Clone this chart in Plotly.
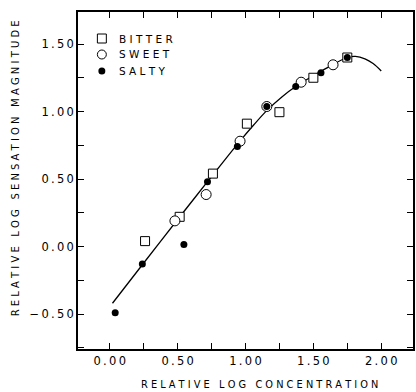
import plotly.graph_objects as go

# ---- data ----
bitter_x = [0.26, 0.515, 0.76, 1.01, 1.25, 1.50, 1.75]
bitter_y = [0.04, 0.22, 0.54, 0.91, 0.995, 1.25, 1.40]

sweet_x = [0.48, 0.71, 0.96, 1.157, 1.41, 1.645]
sweet_y = [0.19, 0.385, 0.78, 1.037, 1.217, 1.346]

salty_x = [0.04, 0.24, 0.546, 0.72, 0.94, 1.157, 1.37, 1.556, 1.75]
salty_y = [-0.49, -0.13, 0.015, 0.48, 0.74, 1.037, 1.185, 1.287, 1.40]

curve_x = [0.02, 0.24, 0.50, 0.72, 0.95, 1.06, 1.16, 1.27, 1.37, 1.56, 1.75, 1.81, 1.88, 1.94, 2.00]
curve_y = [-0.42, -0.135, 0.20, 0.48, 0.77, 0.90, 1.01, 1.11, 1.185, 1.30, 1.40, 1.408, 1.39, 1.355, 1.30]

x_major = [0.0, 0.5, 1.0, 1.5, 2.0]
x_labels = ["0.00", "0.50", "1.00", "1.50", "2.00"]
x_minor = [0.25, 0.75, 1.25, 1.75]
y_major = [-0.5, 0.0, 0.5, 1.0, 1.5]
y_labels = ["\u22120.50", "0.00", "0.50", "1.00", "1.50"]
y_minor = [-0.75, -0.25, 0.25, 0.75, 1.25]

legend_names = ["BITTER", "SWEET", "SALTY"]
x_title = "RELATIVE LOG CONCENTRATION"
y_title = "RELATIVE LOG SENSATION MAGNITUDE"

FONT = "DejaVu Sans"

# plot area geometry (pixels) used to place the hand-drawn legend
L, T, W, H = 78, 12, 337, 337


def spaced(s):
    return "\u00a0\u00a0\u00a0".join(" ".join(w) for w in s.split(" "))


def thin(s):
    return "\u2009".join(s)


def ticks(major, labels, minor):
    pairs = sorted([(v, thin(t)) for v, t in zip(major, labels)] + [(v, "") for v in minor])
    return [p[0] for p in pairs], [p[1] for p in pairs]


def px(xp):
    return (xp - L) / W


def py(yp):
    return 1 - (yp - T) / H


fig = go.Figure()
fig.add_trace(go.Scatter(x=curve_x, y=curve_y, mode="lines",
                         line=dict(color="black", width=1.3, shape="spline", smoothing=1.0),
                         showlegend=False, hoverinfo="skip"))
fig.add_trace(go.Scatter(x=bitter_x, y=bitter_y, mode="markers", name=legend_names[0],
                         showlegend=False,
                         marker=dict(symbol="square", size=9, color="white",
                                     line=dict(color="black", width=1))))
fig.add_trace(go.Scatter(x=sweet_x, y=sweet_y, mode="markers", name=legend_names[1],
                         showlegend=False,
                         marker=dict(symbol="circle", size=10, color="white",
                                     line=dict(color="black", width=1))))
fig.add_trace(go.Scatter(x=salty_x, y=salty_y, mode="markers", name=legend_names[2],
                         showlegend=False,
                         marker=dict(symbol="circle", size=7, color="black",
                                     line=dict(color="black", width=0))))

axis_common = dict(
    showline=True, linecolor="black", linewidth=1.5, mirror="ticks",
    ticks="inside", ticklen=6, tickwidth=1.2, tickcolor="black",
    showgrid=False, zeroline=False,
    tickfont=dict(family=FONT, size=11.5, color="black"),
)

xtv, xtt = ticks(x_major, x_labels, x_minor)
ytv, ytt = ticks(y_major, y_labels, y_minor)
fig.update_xaxes(range=[-0.234, 2.234], tickvals=xtv, ticktext=xtt, **axis_common)
fig.update_yaxes(range=[-0.759, 1.737], tickvals=ytv, ticktext=ytt, **axis_common)

# legend drawn by hand (symbols + texts)
rows_y = [38.5, 54.5, 71]
sym_x = 102
shapes = []
s = 4.5
shapes.append(dict(type="rect", xref="paper", yref="paper",
                   x0=px(sym_x - s), x1=px(sym_x + s), y0=py(rows_y[0] + s), y1=py(rows_y[0] - s),
                   line=dict(color="black", width=1), fillcolor="white"))
r = 4.5
shapes.append(dict(type="circle", xref="paper", yref="paper",
                   x0=px(sym_x - r), x1=px(sym_x + r), y0=py(rows_y[1] + r), y1=py(rows_y[1] - r),
                   line=dict(color="black", width=1), fillcolor="white"))
r2 = 3.5
shapes.append(dict(type="circle", xref="paper", yref="paper",
                   x0=px(sym_x - r2), x1=px(sym_x + r2), y0=py(rows_y[2] + r2), y1=py(rows_y[2] - r2),
                   line=dict(color="black", width=0), fillcolor="black"))

annotations = []
for name, yy in zip(legend_names, rows_y):
    annotations.append(dict(text=" ".join(name), xref="paper", yref="paper",
                            x=px(117), y=py(yy), xanchor="left", yanchor="middle",
                            showarrow=False, font=dict(family=FONT, size=10.5, color="black")))

annotations.append(dict(text=spaced(x_title), xref="paper", yref="paper", x=px(261), y=py(384),
                        xanchor="center", yanchor="middle", showarrow=False,
                        font=dict(family=FONT, size=9.8, color="black")))
annotations.append(dict(text=spaced(y_title), xref="paper", yref="paper", x=px(15), y=py(168),
                        xanchor="center", yanchor="middle", showarrow=False, textangle=-90,
                        font=dict(family=FONT, size=10, color="black")))

fig.update_layout(
    width=416, height=392,
    margin=dict(l=L, r=416 - L - W, t=T, b=392 - T - H),
    paper_bgcolor="white", plot_bgcolor="white",
    font=dict(family=FONT, color="black"),
    showlegend=False,
    shapes=shapes,
    annotations=annotations,
)

fig.write_html("out.html")
